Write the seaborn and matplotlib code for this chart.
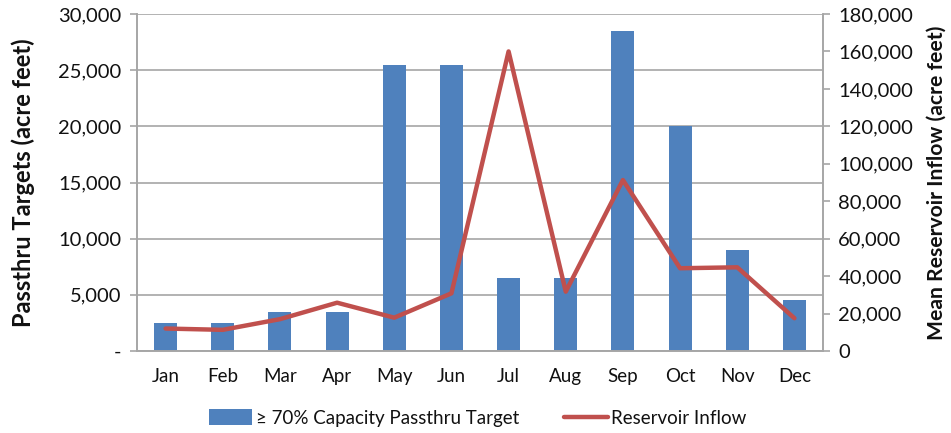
import matplotlib
matplotlib.use("Agg")
import matplotlib.pyplot as plt
import seaborn as sns
import pandas as pd
import numpy as np
from matplotlib.ticker import FuncFormatter, MultipleLocator
from matplotlib.patches import Patch
from matplotlib.lines import Line2D

months = ["Jan", "Feb", "Mar", "Apr", "May", "Jun", "Jul", "Aug", "Sep", "Oct", "Nov", "Dec"]
passthru = [2500, 2500, 3500, 3500, 25500, 25500, 6500, 6500, 28500, 20000, 9000, 4500]
inflow = [12000, 11300, 17000, 25800, 17800, 30800, 160000, 31700, 91300, 44200, 44700, 17500]
bar_label = "\u2265 70% Capacity Passthru Target"
line_label = "Reservoir Inflow"

sns.set_theme(style="white")
plt.rcParams["font.family"] = ["Lato", "DejaVu Sans"]
plt.rcParams["text.color"] = "#111111"
plt.rcParams["axes.labelcolor"] = "#111111"
plt.rcParams["xtick.color"] = "#111111"
plt.rcParams["ytick.color"] = "#111111"

BLUE = "#4F81BD"
RED = "#C0504D"
GRID = "#A6A6A6"
FS = 13.5
FSY = 14.5

df = pd.DataFrame({"month": months, "passthru": passthru, "inflow": inflow,
                   "pos": np.arange(len(months))})

fig = plt.figure(figsize=(9.51, 4.33), dpi=100)
ax = fig.add_axes([137 / 951, 1 - 351 / 433, (823 - 137) / 951, (351 - 14) / 433])

sns.barplot(data=df, x="month", y="passthru", color=BLUE, width=0.4, ax=ax,
            saturation=1, edgecolor="none")
ax.set_ylim(0, 30000)
ax.set_xlim(-0.5, 11.5)
ax.yaxis.set_major_locator(MultipleLocator(5000))
ax.yaxis.set_major_formatter(FuncFormatter(lambda v, p: "-" if v == 0 else f"{int(v):,}"))
ax.grid(axis="y", color=GRID, lw=1.2)
ax.set_axisbelow(True)
ax.set_xlabel("")
ax.set_ylabel("Passthru Targets (acre feet)", fontsize=17, fontweight="bold", labelpad=17)

ax2 = ax.twinx()
sns.lineplot(data=df, x="pos", y="inflow", color=RED, lw=3.2, ax=ax2)
ax2.set_ylim(0, 180000)
ax2.set_xlim(-0.5, 11.5)
ax2.yaxis.set_major_locator(MultipleLocator(20000))
ax2.yaxis.set_major_formatter(FuncFormatter(lambda v, p: f"{int(v):,}"))
ax2.set_xlabel("")
ax2.set_ylabel("Mean Reservoir Inflow (acre feet)", fontsize=15.2, fontweight="bold", labelpad=10)

# x ticks between categories
ax.set_xticks(np.arange(len(months)))
ax.set_xticklabels(months)
ax.set_xticks(np.arange(len(months) + 1) - 0.5, minor=True)
ax.tick_params(axis="x", which="major", length=0, labelsize=FS, pad=12)
ax.tick_params(axis="x", which="minor", length=5, color=GRID, width=1.2, direction="out")
ax.tick_params(axis="y", length=5, color=GRID, width=1.2, labelsize=FSY, direction="out", left=True, pad=6)
ax2.tick_params(axis="y", length=5, color=GRID, width=1.2, labelsize=FSY, direction="out", right=True, pad=6)

for a in (ax, ax2):
    for s in a.spines.values():
        s.set_color(GRID)
        s.set_linewidth(1.2)
    a.spines["top"].set_visible(False)

handles = [Patch(facecolor=BLUE, edgecolor="none", label=bar_label),
           Line2D([0], [0], color=RED, lw=3.2, label=line_label)]
fig.legend(handles=handles, loc="center", bbox_to_anchor=(478 / 951, 1 - 418 / 433),
           ncol=2, frameon=False, fontsize=FS, handlelength=2.3, handletextpad=0.2,
           columnspacing=2.4, handleheight=0.9)

fig.savefig("out.png", dpi=100)
